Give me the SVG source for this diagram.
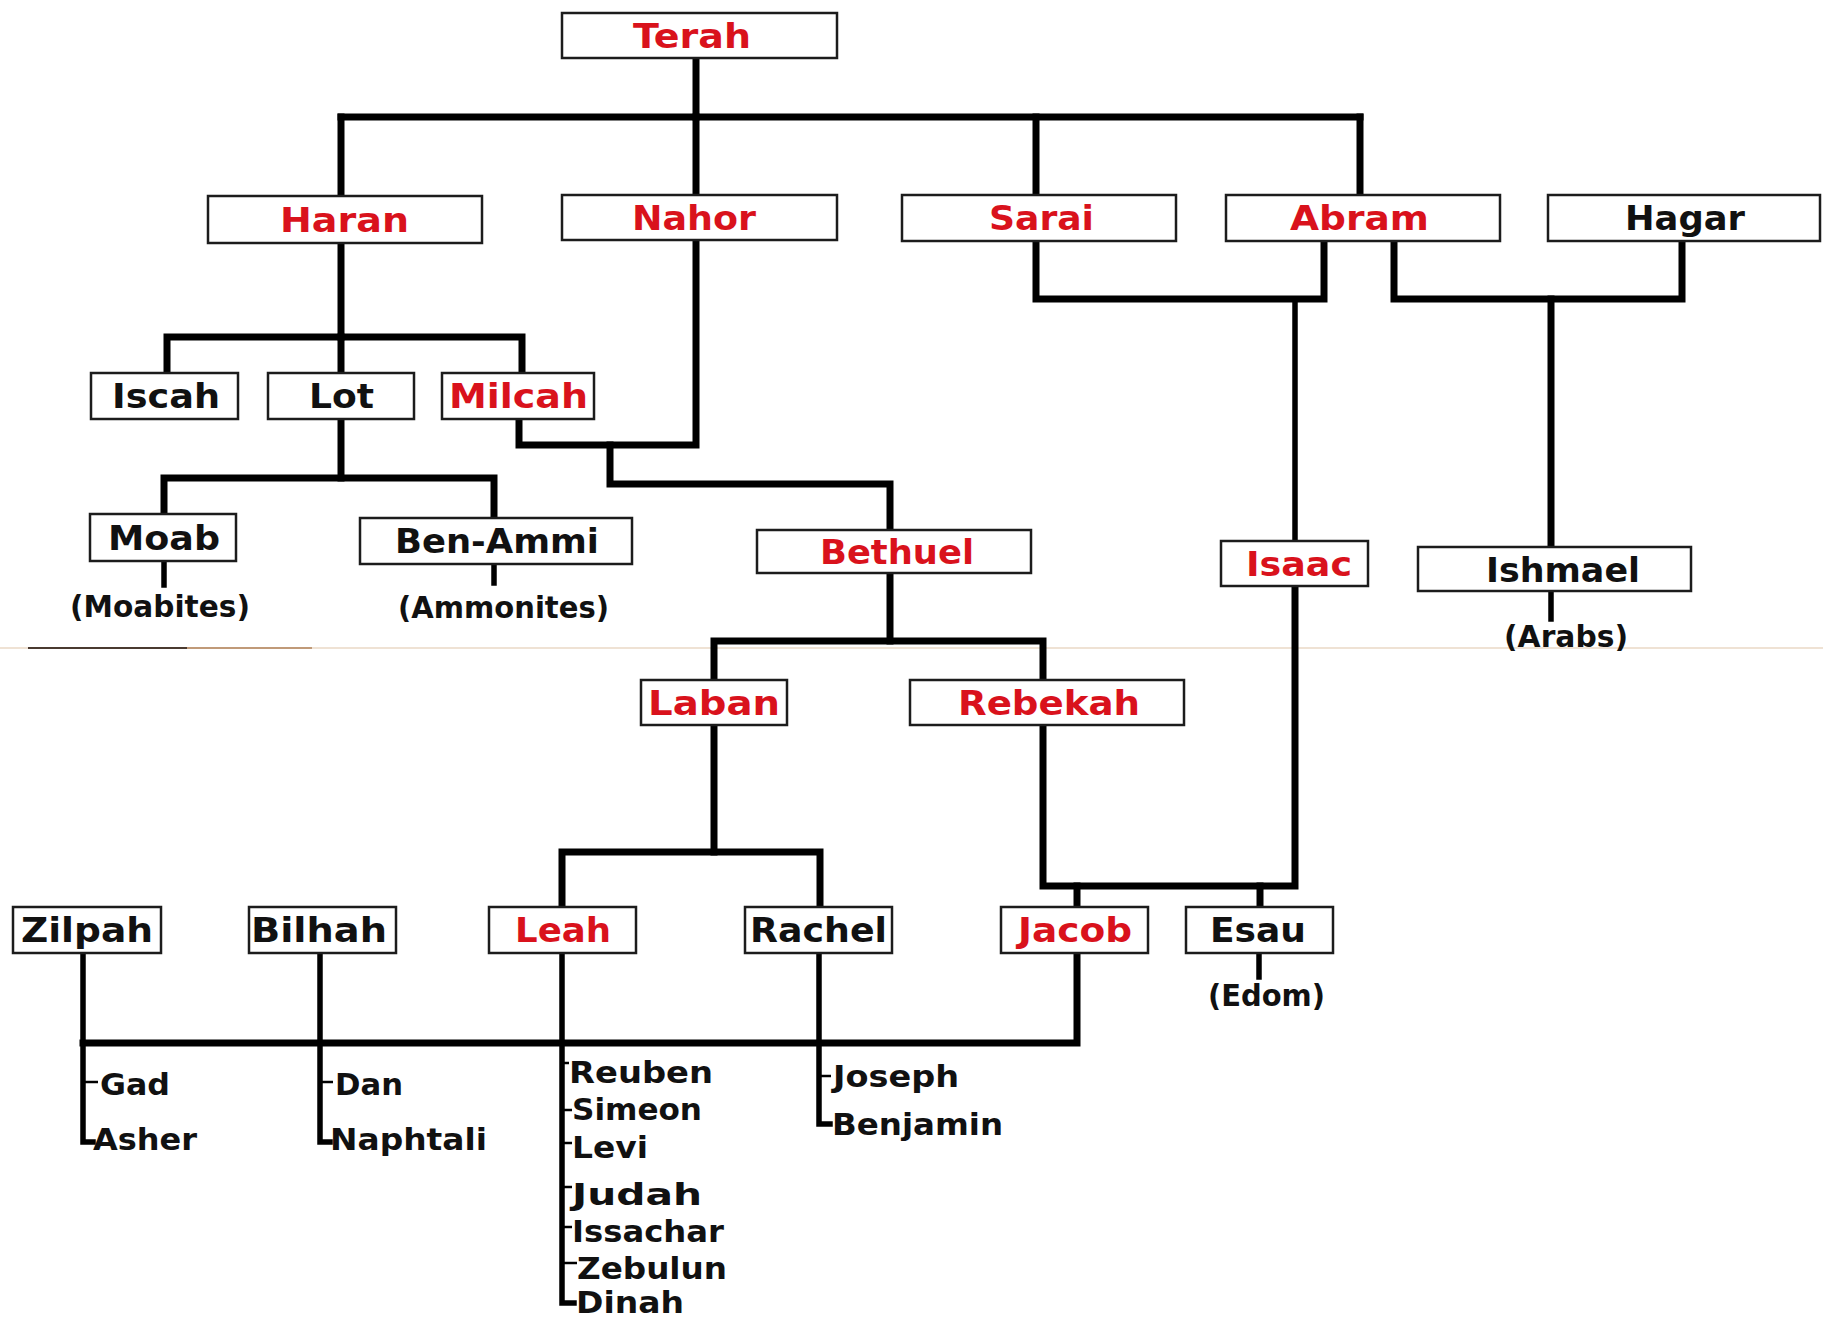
<svg xmlns="http://www.w3.org/2000/svg" width="1823" height="1322" viewBox="0 0 1823 1322">
<style>
.bg{fill:#ffffff}
.box{fill:#ffffff;stroke:#1c1c1c;stroke-width:2.5}
.n{font-family:"DejaVu Sans","Liberation Sans",sans-serif;font-weight:bold;font-size:34px;fill:#111111}
.r{fill:#d9121c}
.c{font-family:"DejaVu Sans","Liberation Sans",sans-serif;font-weight:bold;font-size:31px;fill:#111111}
.p{font-family:"DejaVu Sans","Liberation Sans",sans-serif;font-weight:bold;font-size:30px;fill:#111111}
.ln{fill:none;stroke:#000000;stroke-width:7;stroke-linecap:square;stroke-linejoin:miter}
.thin{fill:none;stroke:#000000;stroke-width:5.5;stroke-linecap:square}
.tick{fill:none;stroke:#000000;stroke-width:2.5}
</style>
<rect class="bg" x="0" y="0" width="1823" height="1322"/>
<g id="seam">
<line x1="0" y1="648" x2="1823" y2="648" stroke="#ead9c6" stroke-width="1.5"/>
<line x1="28" y1="648" x2="187" y2="648" stroke="#4a3a30" stroke-width="2"/>
<line x1="187" y1="648" x2="312" y2="648" stroke="#c09a78" stroke-width="2"/>
</g>
<g id="connectors">
<path class="ln" d="M696,58 V117"/>
<path class="ln" d="M341,117 H1360"/>
<path class="ln" d="M341,117 V196"/>
<path class="ln" d="M696,117 V195"/>
<path class="ln" d="M1036,117 V195"/>
<path class="ln" d="M1360,117 V195"/>
<path class="ln" d="M341,243 V337"/>
<path class="ln" d="M167,373 V337 H522 V373"/>
<path class="ln" d="M341,337 V373"/>
<path class="ln" d="M519,419 V445 H696 V240"/>
<path class="ln" d="M610,445 V484 H890 V530"/>
<path class="ln" d="M341,419 V478"/>
<path class="ln" d="M164,514 V478 H494 V518"/>
<path class="thin" d="M164,561 V585"/>
<path class="thin" d="M494,564 V583"/>
<path class="ln" d="M1036,241 V299 H1324 V241"/>
<path class="thin" d="M1295,299 V541"/>
<path class="ln" d="M1394,241 V299 H1682 V241"/>
<path class="ln" d="M1551,299 V547"/>
<path class="thin" d="M1551,591 V619"/>
<path class="ln" d="M890,573 V641"/>
<path class="ln" d="M714,680 V641 H1043 V680"/>
<path class="ln" d="M714,725 V852"/>
<path class="ln" d="M562,907 V852 H820 V907"/>
<path class="ln" d="M1043,725 V886 H1295 V586"/>
<path class="ln" d="M1077,886 V907"/>
<path class="ln" d="M1260,886 V907"/>
<path class="thin" d="M1259,953 V977"/>
<path class="ln" d="M1077,953 V1043 H83"/>
<path class="thin" d="M83,953 V1142 H93"/>
<path class="tick" d="M83,1082 H98"/>
<path class="thin" d="M320,953 V1142 H330"/>
<path class="tick" d="M320,1082 H333"/>
<path class="thin" d="M562,953 V1303 H574"/>
<path class="tick" d="M562,1063 H569"/>
<path class="tick" d="M562,1110 H572"/>
<path class="tick" d="M562,1143 H572"/>
<path class="tick" d="M562,1187 H572"/>
<path class="tick" d="M562,1227 H572"/>
<path class="tick" d="M562,1263 H577"/>
<path class="thin" d="M819,953 V1124 H830"/>
<path class="tick" d="M819,1076 H831"/>
</g>
<g id="terah"><rect class="box" x="562" y="13" width="275" height="45"/><text class="n r" x="633" y="48" textLength="118" lengthAdjust="spacingAndGlyphs">Terah</text></g>
<g id="haran"><rect class="box" x="208" y="196" width="274" height="47"/><text class="n r" x="280" y="232" textLength="129" lengthAdjust="spacingAndGlyphs">Haran</text></g>
<g id="nahor"><rect class="box" x="562" y="195" width="275" height="45"/><text class="n r" x="632" y="230" textLength="124" lengthAdjust="spacingAndGlyphs">Nahor</text></g>
<g id="sarai"><rect class="box" x="902" y="195" width="274" height="46"/><text class="n r" x="989" y="230" textLength="105" lengthAdjust="spacingAndGlyphs">Sarai</text></g>
<g id="abram"><rect class="box" x="1226" y="195" width="274" height="46"/><text class="n r" x="1290" y="230" textLength="139" lengthAdjust="spacingAndGlyphs">Abram</text></g>
<g id="hagar"><rect class="box" x="1548" y="195" width="272" height="46"/><text class="n" x="1625" y="230" textLength="120" lengthAdjust="spacingAndGlyphs">Hagar</text></g>
<g id="iscah"><rect class="box" x="91" y="373" width="147" height="46"/><text class="n" x="112" y="408" textLength="108" lengthAdjust="spacingAndGlyphs">Iscah</text></g>
<g id="lot"><rect class="box" x="268" y="373" width="146" height="46"/><text class="n" x="309" y="408" textLength="65" lengthAdjust="spacingAndGlyphs">Lot</text></g>
<g id="milcah"><rect class="box" x="442" y="373" width="152" height="46"/><text class="n r" x="449" y="408" textLength="139" lengthAdjust="spacingAndGlyphs">Milcah</text></g>
<g id="moab"><rect class="box" x="90" y="514" width="146" height="47"/><text class="n" x="108" y="550" textLength="112" lengthAdjust="spacingAndGlyphs">Moab</text></g>
<g id="moabites"><text class="p" x="70" y="617" textLength="180" lengthAdjust="spacingAndGlyphs">(Moabites)</text></g>
<g id="ben-ammi"><rect class="box" x="360" y="518" width="272" height="46"/><text class="n" x="395" y="553" textLength="204" lengthAdjust="spacingAndGlyphs">Ben-Ammi</text></g>
<g id="ammonites"><text class="p" x="398" y="618" textLength="211" lengthAdjust="spacingAndGlyphs">(Ammonites)</text></g>
<g id="bethuel"><rect class="box" x="757" y="530" width="274" height="43"/><text class="n r" x="820" y="564" textLength="154" lengthAdjust="spacingAndGlyphs">Bethuel</text></g>
<g id="isaac"><rect class="box" x="1221" y="541" width="147" height="45"/><text class="n r" x="1246" y="576" textLength="106" lengthAdjust="spacingAndGlyphs">Isaac</text></g>
<g id="ishmael"><rect class="box" x="1418" y="547" width="273" height="44"/><text class="n" x="1486" y="582" textLength="154" lengthAdjust="spacingAndGlyphs">Ishmael</text></g>
<g id="arabs"><text class="p" x="1504" y="647" textLength="124" lengthAdjust="spacingAndGlyphs">(Arabs)</text></g>
<g id="laban"><rect class="box" x="641" y="680" width="146" height="45"/><text class="n r" x="648" y="715" textLength="132" lengthAdjust="spacingAndGlyphs">Laban</text></g>
<g id="rebekah"><rect class="box" x="910" y="680" width="274" height="45"/><text class="n r" x="958" y="715" textLength="182" lengthAdjust="spacingAndGlyphs">Rebekah</text></g>
<g id="zilpah"><rect class="box" x="13" y="907" width="148" height="46"/><text class="n" x="21" y="942" textLength="132" lengthAdjust="spacingAndGlyphs">Zilpah</text></g>
<g id="bilhah"><rect class="box" x="249" y="907" width="147" height="46"/><text class="n" x="251" y="942" textLength="136" lengthAdjust="spacingAndGlyphs">Bilhah</text></g>
<g id="leah"><rect class="box" x="489" y="907" width="147" height="46"/><text class="n r" x="515" y="942" textLength="96" lengthAdjust="spacingAndGlyphs">Leah</text></g>
<g id="rachel"><rect class="box" x="745" y="907" width="147" height="46"/><text class="n" x="750" y="942" textLength="137" lengthAdjust="spacingAndGlyphs">Rachel</text></g>
<g id="jacob"><rect class="box" x="1001" y="907" width="147" height="46"/><text class="n r" x="1018" y="942" textLength="114" lengthAdjust="spacingAndGlyphs">Jacob</text></g>
<g id="esau"><rect class="box" x="1186" y="907" width="147" height="46"/><text class="n" x="1210" y="942" textLength="96" lengthAdjust="spacingAndGlyphs">Esau</text></g>
<g id="edom"><text class="p" x="1208" y="1006" textLength="117" lengthAdjust="spacingAndGlyphs">(Edom)</text></g>
<g id="zilpah-children">
<text class="c" x="100" y="1095" textLength="70" lengthAdjust="spacingAndGlyphs">Gad</text>
<text class="c" x="93" y="1150" textLength="104" lengthAdjust="spacingAndGlyphs">Asher</text>
</g>
<g id="bilhah-children">
<text class="c" x="335" y="1095" textLength="68" lengthAdjust="spacingAndGlyphs">Dan</text>
<text class="c" x="330" y="1150" textLength="157" lengthAdjust="spacingAndGlyphs">Naphtali</text>
</g>
<g id="leah-children">
<text class="c" x="569" y="1083" textLength="144" lengthAdjust="spacingAndGlyphs">Reuben</text>
<text class="c" x="572" y="1120" textLength="130" lengthAdjust="spacingAndGlyphs">Simeon</text>
<text class="c" x="572" y="1158" textLength="76" lengthAdjust="spacingAndGlyphs">Levi</text>
<text class="c r" x="572" y="1205" textLength="130" lengthAdjust="spacingAndGlyphs">Judah</text>
<text class="c" x="572" y="1242" textLength="152" lengthAdjust="spacingAndGlyphs">Issachar</text>
<text class="c" x="577" y="1279" textLength="150" lengthAdjust="spacingAndGlyphs">Zebulun</text>
<text class="c" x="576" y="1313" textLength="108" lengthAdjust="spacingAndGlyphs">Dinah</text>
</g>
<g id="rachel-children">
<text class="c" x="833" y="1087" textLength="126" lengthAdjust="spacingAndGlyphs">Joseph</text>
<text class="c" x="832" y="1135" textLength="171" lengthAdjust="spacingAndGlyphs">Benjamin</text>
</g>
</svg>
